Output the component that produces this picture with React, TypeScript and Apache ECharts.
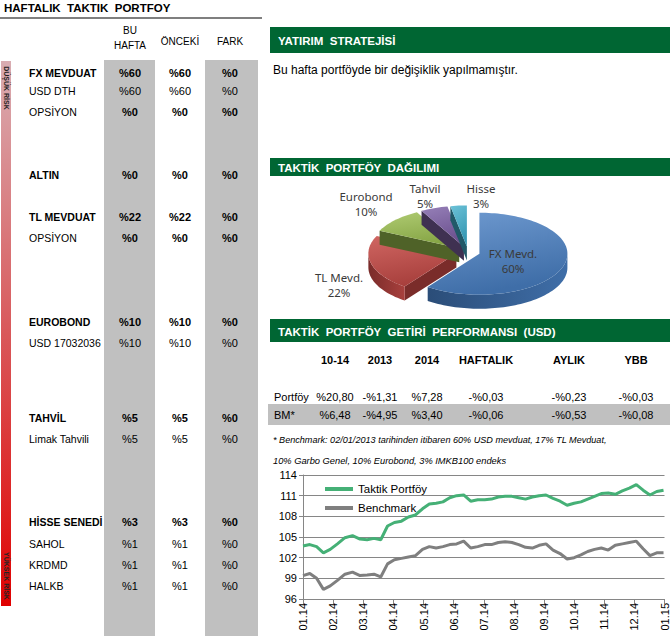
import React, { useEffect, useRef } from 'react';
import * as echarts from 'echarts';

// ---------------- DATA ----------------
const pageTitle = 'HAFTALIK  TAKTIK  PORTFOY';
const columnHeaders = ['BU\nHAFTA', 'ÖNCEKİ', 'FARK'];
const assetNames = ['FX MEVDUAT', 'USD DTH', 'OPSİYON', 'ALTIN', 'TL MEVDUAT', 'OPSİYON', 'EUROBOND', 'USD 17032036', 'TAHVİL', 'Limak Tahvili', 'HİSSE SENEDİ', 'SAHOL', 'KRDMD', 'HALKB'];
const assetIsGroup = [true, false, false, true, true, false, true, false, true, false, true, false, false, false];
const valueIsBold = [true, false, true, true, true, true, true, false, true, false, true, false, false, false];
const weightThisWeek = ['%60', '%60', '%0', '%0', '%22', '%0', '%10', '%10', '%5', '%5', '%3', '%1', '%1', '%1'];
const weightPrevious = ['%60', '%60', '%0', '%0', '%22', '%0', '%10', '%10', '%5', '%5', '%3', '%1', '%1', '%1'];
const weightDiff = ['%0', '%0', '%0', '%0', '%0', '%0', '%0', '%0', '%0', '%0', '%0', '%0', '%0', '%0'];
const riskLabels = ['DÜŞÜK RİSK', 'YÜKSEK RİSK'];

const strategyTitle = 'YATIRIM  STRATEJİSİ';
const strategyText = 'Bu hafta portföyde bir değişiklik yapılmamıştır.';
const allocationTitle = 'TAKTİK  PORTFÖY  DAĞILIMI';
const pieNames = ['FX Mevd.', 'TL Mevd.', 'Eurobond', 'Tahvil', 'Hisse'];
const pieValues = [60, 22, 10, 5, 3];

const perfTitle = 'TAKTİK  PORTFÖY  GETİRİ  PERFORMANSI  (USD)';
const perfColumns = ['10-14', '2013', '2014', 'HAFTALIK', 'AYLIK', 'YBB'];
const perfRowNames = ['Portföy', 'BM*'];
const portfolioReturns = ['%20,80', '-%1,31', '%7,28', '-%0,03', '-%0,23', '-%0,03'];
const benchmarkReturns = ['%6,48', '-%4,95', '%3,40', '-%0,06', '-%0,53', '-%0,08'];
const footnoteLines = [
  '* Benchmark: 02/01/2013 tarihinden itibaren 60% USD mevduat, 17% TL Mevduat,',
  '10% Garbo Genel, 10% Eurobond, 3% IMKB100 endeks',
];

const seriesNames = ['Taktik Portföy', 'Benchmark'];
const weekDates = [
  '2014-01-01', '2014-01-08', '2014-01-15', '2014-01-22', '2014-01-29',
  '2014-02-05', '2014-02-12', '2014-02-19', '2014-02-26',
  '2014-03-05', '2014-03-12', '2014-03-19', '2014-03-26',
  '2014-04-02', '2014-04-09', '2014-04-16', '2014-04-23', '2014-04-30',
  '2014-05-07', '2014-05-14', '2014-05-21', '2014-05-28',
  '2014-06-04', '2014-06-11', '2014-06-18', '2014-06-25',
  '2014-07-02', '2014-07-09', '2014-07-16', '2014-07-23', '2014-07-30',
  '2014-08-06', '2014-08-13', '2014-08-20', '2014-08-27',
  '2014-09-03', '2014-09-10', '2014-09-17', '2014-09-24',
  '2014-10-01', '2014-10-08', '2014-10-15', '2014-10-22', '2014-10-29',
  '2014-11-05', '2014-11-12', '2014-11-19', '2014-11-26',
  '2014-12-03', '2014-12-10', '2014-12-17', '2014-12-24', '2014-12-31',
];
const portfolioIndex = [
  103.7, 103.9, 103.6, 102.7, 103.2, 104.0, 104.9, 105.2, 104.7, 104.6, 104.8, 104.6, 106.6,
  107.1, 107.3, 107.9, 108.2, 109.1, 109.8, 109.9, 110.1, 110.7, 111.0, 111.1, 110.2, 110.4,
  110.4, 110.5, 110.8, 110.9, 110.9, 110.7, 110.5, 110.8, 111.0, 111.1, 110.6, 110.2, 109.6,
  109.9, 110.1, 110.5, 110.9, 111.3, 111.4, 111.2, 111.7, 112.1, 112.6, 111.8, 111.1, 111.6, 111.8,
];
const benchmarkIndex = [
  99.4, 99.7, 99.0, 97.4, 97.9, 98.7, 99.6, 99.9, 99.4, 99.5, 99.6, 99.2, 101.1,
  101.7, 101.9, 102.1, 102.3, 103.2, 103.6, 103.4, 103.6, 103.9, 104.0, 104.4, 103.4, 103.6,
  103.9, 103.9, 104.2, 104.3, 104.2, 103.9, 103.5, 103.4, 103.8, 104.0, 103.1, 102.6, 101.8,
  102.0, 102.4, 102.9, 103.2, 103.4, 103.1, 103.8, 104.0, 104.2, 104.4, 103.3, 102.3, 102.7, 102.7,
];
const monthLabels = ['01.14', '02.14', '03.14', '04.14', '05.14', '06.14', '07.14', '08.14', '09.14', '10.14', '11.14', '12.14', '01.15'];

// ---------------- LAYOUT ----------------
const FONT = '"Liberation Sans", Arial, sans-serif';
const ROW_Y = [73, 91, 112, 175, 217, 238, 322, 343, 418, 439, 522, 544, 565, 586];
const COL_X = [130, 180, 230];
const PERF_X = [335, 380, 427, 486, 569, 636];
const GREEN = '#006633';
const PIE_GEOM = { cx: 468, cy: 252, rx: 88, ry: 41, depth: 14, explode: 12 };
const PIE_LABEL_POS = [[513, 261], [339, 285], [366, 204], [425, 196], [481, 196]];
const PIE_TOP = [
  ['#6f9ad0', '#3f6ea8'],
  ['#d06662', '#a8403d'],
  ['#afcb72', '#86a545'],
  ['#9680b8', '#6b508e'],
  ['#6cc2d8', '#3597b2'],
];
const PIE_SIDE = ['#2b4d78', '#7a2c2a', '#4f6228', '#3f3151', '#215968'];

function monthPos(d: string): number {
  const [y, m, day] = d.split('-').map(Number);
  const dim = new Date(Date.UTC(y, m, 0)).getUTCDate();
  return (y - 2014) * 12 + (m - 1) + (day - 1) / dim;
}

function txt(text: string, x: number, y: number, font: string, align = 'left', fill = '#000', extra: any = {}) {
  return {
    type: 'text', x, y, silent: true, ...extra,
    style: { text, font, fill, textAlign: align, align, textVerticalAlign: 'middle', verticalAlign: 'middle', ...(extra.style || {}) },
  };
}

function renderPie(params: any, api: any) {
  const i = params.dataIndex;
  const total = pieValues.reduce((a, b) => a + b, 0);
  let before = 0;
  for (let k = 0; k < i; k++) before += pieValues[k];
  const v = api.value(0) as number;
  const a0 = (before / total) * 2 * Math.PI;
  const a1 = ((before + v) / total) * 2 * Math.PI;
  const am = (a0 + a1) / 2;
  const { cx, cy, rx, ry, depth, explode } = PIE_GEOM;
  const ox = cx + explode * Math.sin(am);
  const oy = cy - explode * Math.cos(am) * (ry / rx);
  const P = (t: number, dz = 0) => [ox + rx * Math.sin(t), oy - ry * Math.cos(t) + dz];
  const arc = (t0: number, t1: number, dz = 0) => {
    const n = Math.max(2, Math.ceil((t1 - t0) / (Math.PI / 90)));
    const pts: number[][] = [];
    for (let j = 0; j <= n; j++) pts.push(P(t0 + ((t1 - t0) * j) / n, dz));
    return pts;
  };
  const children: any[] = [];
  const side = PIE_SIDE[i];
  if (Math.sin(a0) < -1e-6) {
    children.push({ type: 'polygon', shape: { points: [[ox, oy], P(a0), P(a0, depth), [ox, oy + depth]] }, style: { fill: side } });
  }
  if (Math.sin(a1) > 1e-6) {
    children.push({ type: 'polygon', shape: { points: [[ox, oy], P(a1), P(a1, depth), [ox, oy + depth]] }, style: { fill: side } });
  }
  const s0 = Math.max(a0, Math.PI / 2);
  const s1 = Math.min(a1, (3 * Math.PI) / 2);
  if (s1 > s0) {
    const top = arc(s0, s1, 0);
    const bot = arc(s0, s1, depth).reverse();
    children.push({
      type: 'polygon', shape: { points: top.concat(bot) },
      style: {
        fill: {
          type: 'linear', x: 1, y: 0, x2: 0, y2: 0,
          colorStops: [{ offset: 0, color: PIE_TOP[i][1] }, { offset: 1, color: side }],
        },
      },
    });
  }
  children.push({
    type: 'polygon', shape: { points: [[ox, oy], ...arc(a0, a1)] },
    style: {
      fill: {
        type: 'linear', x: 0, y: 0, x2: 0.3, y2: 1,
        colorStops: [{ offset: 0, color: PIE_TOP[i][0] }, { offset: 1, color: PIE_TOP[i][1] }],
      },
    },
  });
  const lp = PIE_LABEL_POS[i];
  children.push({
    type: 'text', x: lp[0], y: lp[1],
    style: {
      text: `${pieNames[i]}\n${v}%`, font: '11.5px "Noto Sans", sans-serif', fill: '#3a3a3a',
      textAlign: 'center', align: 'center', textVerticalAlign: 'middle', verticalAlign: 'middle', lineHeight: 15,
    },
  });
  return { type: 'group', children };
}

function buildGraphics() {
  const g: any[] = [];
  // left panel
  g.push(txt(pageTitle, 4, 8, `bold 11.5px ${FONT}`));
  g.push({ type: 'rect', silent: true, shape: { x: 0, y: 17.5, width: 262, height: 1 }, style: { fill: '#000' } });
  g.push({ type: 'rect', silent: true, shape: { x: 104, y: 60, width: 51, height: 576 }, style: { fill: '#c0c0c0' } });
  g.push({ type: 'rect', silent: true, shape: { x: 205, y: 60, width: 53, height: 576 }, style: { fill: '#c0c0c0' } });
  g.push({
    type: 'rect', silent: true, shape: { x: 1, y: 61, width: 10, height: 545 },
    style: {
      fill: {
        type: 'linear', x: 0, y: 0, x2: 0, y2: 1,
        colorStops: [
          { offset: 0, color: '#d9adb2' },
          { offset: 0.5, color: '#d9585a' },
          { offset: 0.85, color: '#de1d1d' },
          { offset: 1, color: '#e00000' },
        ],
      },
    },
  });
  g.push(txt(riskLabels[0], 6, 88, `bold 7px ${FONT}`, 'center', '#222', { rotation: -Math.PI / 2 }));
  g.push(txt(riskLabels[1], 6, 576, `bold 7px ${FONT}`, 'center', '#222', { rotation: -Math.PI / 2 }));
  g.push(txt(columnHeaders[0], COL_X[0], 38, `10px ${FONT}`, 'center', '#000', { style: { lineHeight: 15 } }));
  g.push(txt(columnHeaders[1], COL_X[1], 41, `10px ${FONT}`, 'center'));
  g.push(txt(columnHeaders[2], COL_X[2], 41, `10px ${FONT}`, 'center'));
  assetNames.forEach((name, i) => {
    const y = ROW_Y[i];
    g.push(txt(name, 29, y, `${assetIsGroup[i] ? 'bold ' : ''}10.5px ${FONT}`));
    const vf = `${valueIsBold[i] ? 'bold ' : ''}11px ${FONT}`;
    g.push(txt(weightThisWeek[i], COL_X[0], y, vf, 'center'));
    g.push(txt(weightPrevious[i], COL_X[1], y, vf, 'center'));
    g.push(txt(weightDiff[i], COL_X[2], y, vf, 'center'));
  });

  // right panel headers
  const header = (title: string, y: number, h: number) => {
    g.push({ type: 'rect', silent: true, shape: { x: 270, y, width: 400, height: h }, style: { fill: GREEN } });
    g.push(txt(title, 278, y + h / 2 + 1, `bold 11.5px ${FONT}`, 'left', '#fff'));
  };
  header(strategyTitle, 27, 26);
  g.push(txt(strategyText, 273, 70, `12px ${FONT}`));
  header(allocationTitle, 158, 18);
  header(perfTitle, 319, 23);

  // performance table
  perfColumns.forEach((c, i) => g.push(txt(c, PERF_X[i], 360, `bold 11px ${FONT}`, 'center')));
  g.push({ type: 'rect', silent: true, shape: { x: 268, y: 404, width: 402, height: 21 }, style: { fill: '#c0c0c0' } });
  g.push(txt(perfRowNames[0], 274, 397, `11px ${FONT}`));
  g.push(txt(perfRowNames[1], 274, 415, `11px ${FONT}`));
  portfolioReturns.forEach((v, i) => g.push(txt(v, PERF_X[i], 397, `11px ${FONT}`, 'center')));
  benchmarkReturns.forEach((v, i) => g.push(txt(v, PERF_X[i], 415, `11px ${FONT}`, 'center')));
  g.push(txt(footnoteLines[0], 273, 440, `italic 9.1px ${FONT}`));
  g.push(txt(footnoteLines[1], 273, 461, `italic 9.3px ${FONT}`));
  return g;
}

export default function App() {
  const ref = useRef<HTMLDivElement>(null);
  useEffect(() => {
    if (!ref.current) return;
    const chart = echarts.init(ref.current, undefined, { renderer: 'svg' });
    const toPoints = (vals: number[]) => vals.map((v, i) => [monthPos(weekDates[i]), v]);
    chart.setOption({
      animation: false,
      backgroundColor: '#fff',
      graphic: buildGraphics(),
      legend: {
        data: seriesNames,
        orient: 'vertical',
        left: 320,
        top: 478,
        icon: 'rect',
        itemWidth: 28,
        itemHeight: 4,
        itemGap: 7,
        textStyle: { fontFamily: FONT, fontSize: 11.5, color: '#000' },
      },
      grid: { left: 303, right: 5, top: 475, bottom: 43, containLabel: false },
      xAxis: {
        type: 'value',
        min: 0,
        max: 12,
        interval: 1,
        axisLine: { show: true, lineStyle: { color: '#868686' } },
        axisTick: { show: true, length: 5, lineStyle: { color: '#868686' } },
        splitLine: { show: false },
        axisLabel: {
          rotate: 90,
          margin: 4,
          fontFamily: FONT,
          fontSize: 11,
          color: '#000',
          formatter: (v: number) => monthLabels[Math.round(v)] ?? '',
        },
      },
      yAxis: {
        type: 'value',
        min: 96,
        max: 114,
        interval: 3,
        axisLine: { show: true, lineStyle: { color: '#868686' } },
        axisTick: { show: true, length: 4, lineStyle: { color: '#868686' } },
        splitLine: { show: true, lineStyle: { color: '#868686', width: 1 } },
        axisLabel: { margin: 6, fontFamily: FONT, fontSize: 11, color: '#000' },
      },
      series: [
        {
          name: seriesNames[0],
          type: 'line',
          data: toPoints(portfolioIndex),
          showSymbol: false,
          symbol: 'none',
          color: '#45b076',
          lineStyle: { width: 3, color: '#45b076' },
        },
        {
          name: seriesNames[1],
          type: 'line',
          data: toPoints(benchmarkIndex),
          showSymbol: false,
          symbol: 'none',
          color: '#7f7f7f',
          lineStyle: { width: 3, color: '#7f7f7f' },
        },
        {
          type: 'custom',
          coordinateSystem: 'none',
          silent: true,
          renderItem: renderPie,
          data: pieValues.map((v, i) => ({ name: pieNames[i], value: v })),
        },
      ],
    });
    return () => chart.dispose();
  }, []);
  return <div ref={ref} style={{ position: 'absolute', left: 0, top: 0, width: 670, height: 642 }} />;
}
